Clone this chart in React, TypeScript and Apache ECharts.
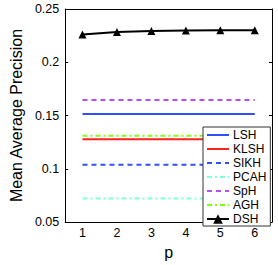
import React, { useEffect, useRef } from "react";
import * as echarts from "echarts";

const pValues = ["1", "2", "3", "4", "5", "6"];
const yTicks = [0.05, 0.1, 0.15, 0.2, 0.25];
const lsh = [0.1515, 0.1515, 0.1515, 0.1515, 0.1515, 0.1515];
const klsh = [0.1277, 0.1277, 0.1277, 0.1277, 0.1277, 0.1277];
const sikh = [0.1038, 0.1038, 0.1038, 0.1038, 0.1038, 0.1038];
const pcah = [0.0721, 0.0721, 0.0721, 0.0721, 0.0721, 0.0721];
const sph = [0.1645, 0.1645, 0.1645, 0.1645, 0.1645, 0.1645];
const agh = [0.131, 0.131, 0.131, 0.131, 0.131, 0.131];
const dsh = [0.226, 0.2285, 0.2294, 0.2299, 0.23, 0.23];

const FONT = "'Liberation Sans', Arial, Helvetica, sans-serif";

export default function App() {
  const ref = useRef<HTMLDivElement>(null);
  useEffect(() => {
    if (!ref.current) return;
    const chart = echarts.init(ref.current, null, { renderer: "svg" });
    const flat = (name: string, data: number[], color: string, type: any) => ({
      name,
      type: "line",
      data,
      symbol: "none",
      lineStyle: { color, width: 2, type },
      itemStyle: { color },
      z: 2,
    });
    const hidden = { opacity: 0 };
    chart.setOption({
      animation: false,
      backgroundColor: "#fff",
      textStyle: { fontFamily: FONT },
      grid: { left: 49, right: 6, top: 9, bottom: 34 },
      xAxis: [
        {
          type: "category",
          data: pValues,
          boundaryGap: true,
          name: "p",
          nameLocation: "middle",
          nameGap: 20,
          nameTextStyle: { fontSize: 16, color: "#000", fontFamily: FONT },
          axisLine: { lineStyle: { color: "#000", width: 1 } },
          axisTick: { inside: true, alignWithLabel: true, length: 3, lineStyle: { color: "#000" } },
          axisLabel: { fontSize: 12.5, color: "#000", margin: 4, fontFamily: FONT },
          splitLine: { show: false },
        },
        {
          type: "category",
          data: pValues,
          position: "top",
          boundaryGap: true,
          axisLine: { lineStyle: { color: "#000", width: 1 } },
          axisTick: { inside: true, alignWithLabel: true, length: 3, lineStyle: { color: "#000" } },
          axisLabel: { show: false },
          splitLine: { show: false },
        },
      ],
      yAxis: [
        {
          type: "value",
          min: 0.05,
          max: 0.25,
          interval: 0.05,
          name: "Mean Average Precision",
          nameLocation: "middle",
          nameGap: 33,
          nameTextStyle: { fontSize: 16, color: "#000", fontFamily: FONT },
          axisLine: { show: true, lineStyle: { color: "#000", width: 1 } },
          axisTick: { show: true, inside: true, length: 3, lineStyle: { color: "#000" } },
          axisLabel: {
            fontSize: 12.5,
            color: "#000",
            margin: 6,
            fontFamily: FONT,
            formatter: (v: number) => {
              const t = yTicks.find((x) => Math.abs(x - v) < 1e-9);
              return t !== undefined ? String(t) : "";
            },
          },
          splitLine: { show: false },
        },
        {
          type: "value",
          min: 0.05,
          max: 0.25,
          interval: 0.05,
          position: "right",
          axisLine: { show: true, lineStyle: { color: "#000", width: 1 } },
          axisTick: { show: true, inside: true, length: 3, lineStyle: { color: "#000" } },
          axisLabel: { show: false },
          splitLine: { show: false },
        },
      ],
      legend: {
        orient: "vertical",
        left: 203,
        top: 127,
        backgroundColor: "#fff",
        borderColor: "#333",
        borderWidth: 1,
        borderRadius: 0,
        padding: [2, 4, 1, 3],
        itemWidth: 22,
        itemHeight: 12,
        itemGap: 2,
        textStyle: { fontSize: 12, color: "#000", fontFamily: FONT, padding: [0, 0, 0, -1] },
        data: [
          { name: "LSH", itemStyle: hidden },
          { name: "KLSH", itemStyle: hidden },
          { name: "SIKH", itemStyle: hidden },
          { name: "PCAH", itemStyle: hidden },
          { name: "SpH", itemStyle: hidden },
          { name: "AGH", itemStyle: hidden },
          "DSH",
        ],
        z: 10,
      },
      series: [
        flat("LSH", lsh, "#3050ff", "solid"),
        flat("KLSH", klsh, "#ff2020", "solid"),
        flat("SIKH", sikh, "#3050ff", [5, 4]),
        flat("PCAH", pcah, "#80ffd8", [5, 3, 2, 3]),
        flat("SpH", sph, "#b050ff", [5, 4]),
        flat("AGH", agh, "#80ff10", [5, 3, 2, 3]),
        {
          name: "DSH",
          type: "line",
          data: dsh,
          symbol: "triangle",
          symbolSize: 8,
          lineStyle: { color: "#000", width: 2 },
          itemStyle: { color: "#000" },
          z: 3,
        },
      ],
    });
    return () => chart.dispose();
  }, []);
  return <div ref={ref} style={{ position: "fixed", left: 0, top: 0, width: 278, height: 265 }} />;
}
